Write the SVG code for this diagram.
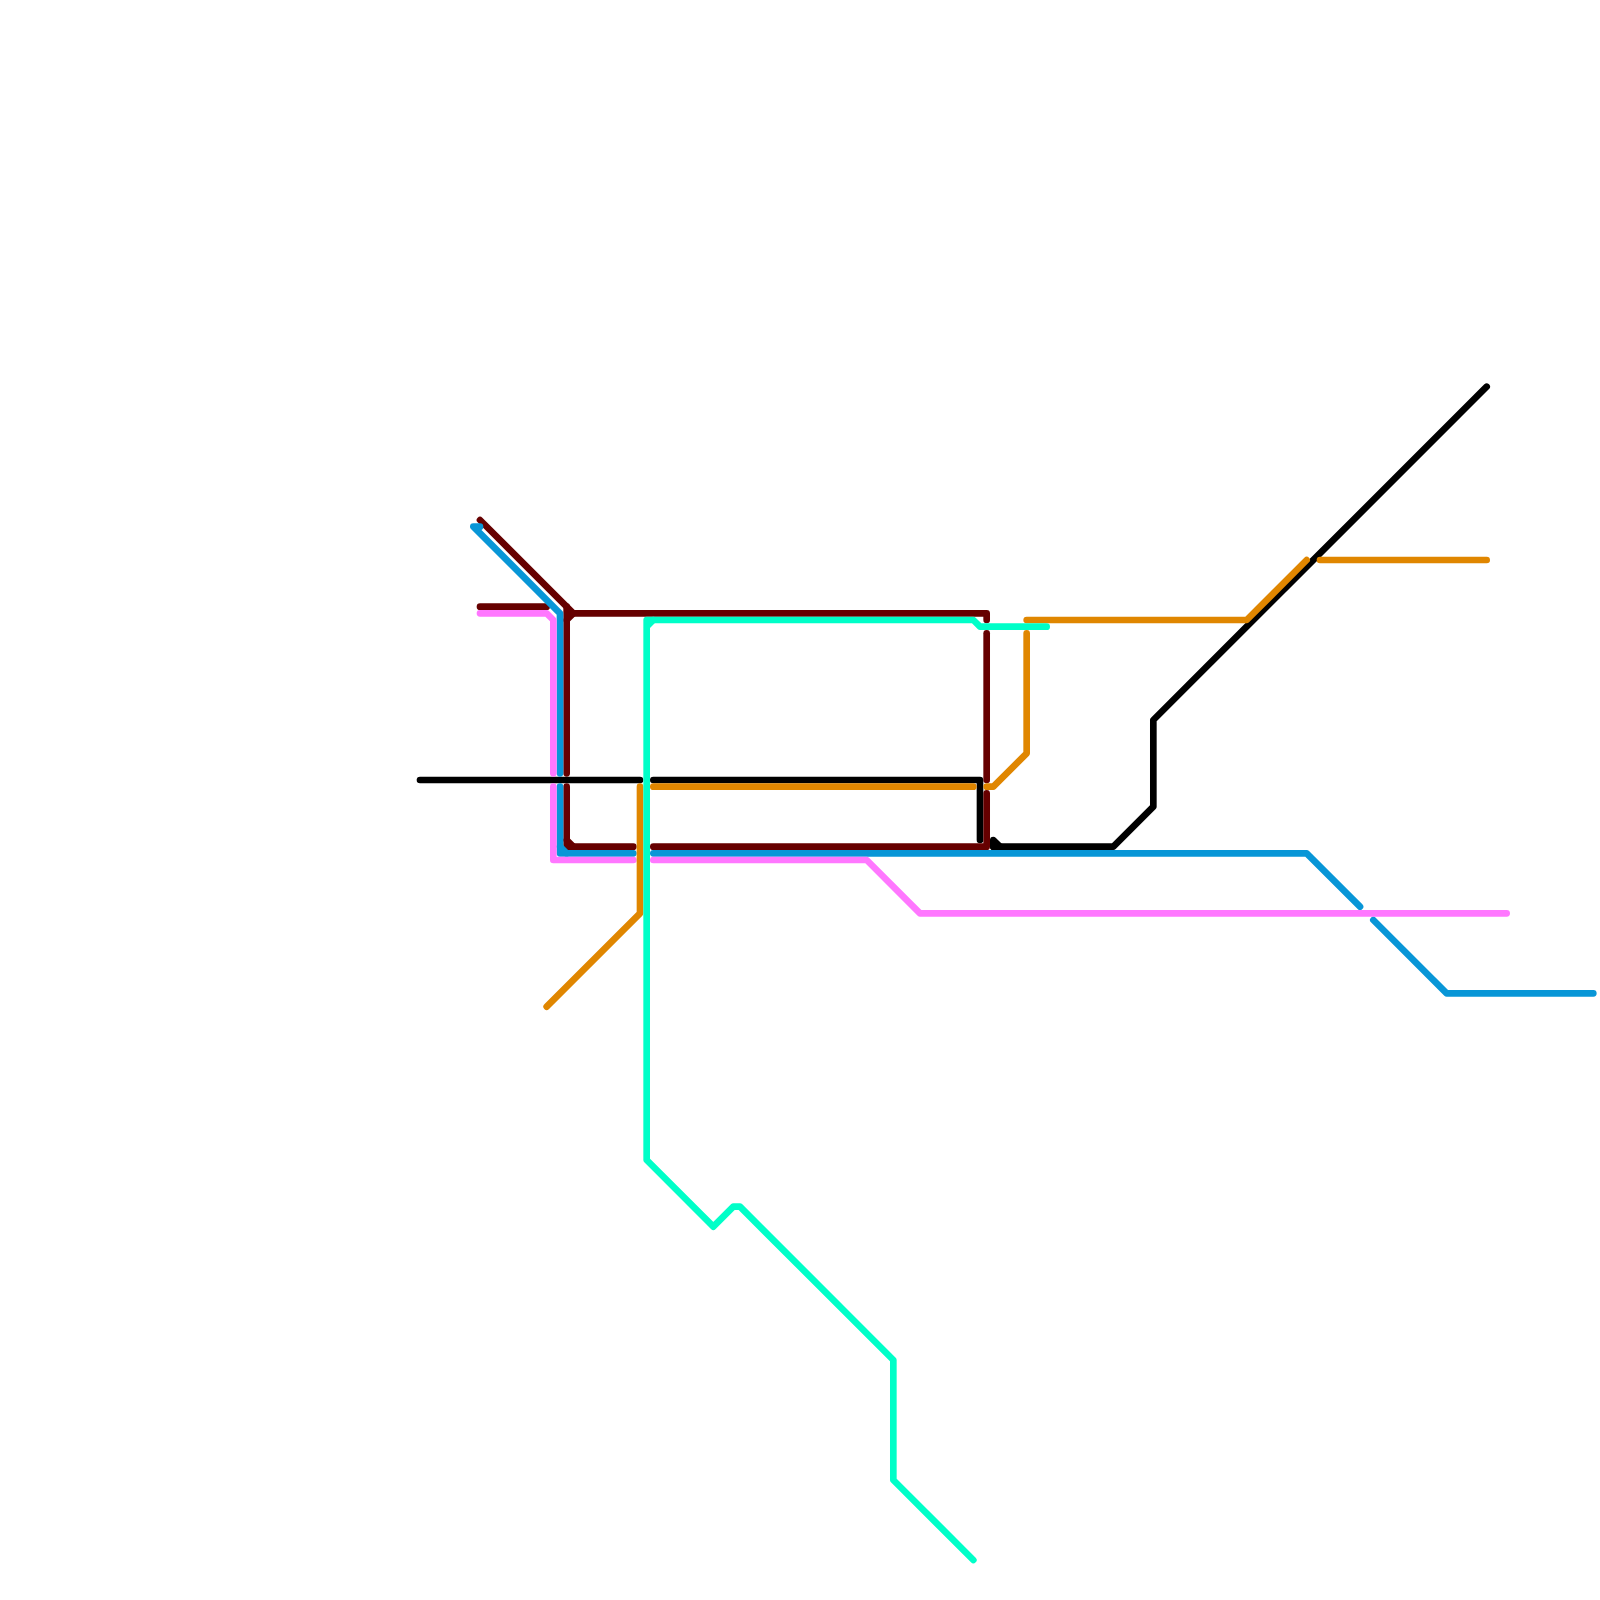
<svg xmlns="http://www.w3.org/2000/svg" width="1600" height="1600" viewBox="0 0 1600 1600">
<style>
polyline{fill:none;stroke-width:6.67;stroke-linecap:round;stroke-linejoin:round}
.black polyline{stroke:#000000}
.maroon polyline{stroke:#660000}
.blue polyline{stroke:#0896d7}
.pink polyline{stroke:#ff77ff}
.orange polyline{stroke:#e08600}
.teal polyline{stroke:#00ffc8}
</style>
<rect width="1600" height="1600" fill="#ffffff"/>
<g id="connectors">
<g id="line-black" class="black">
<polyline points="420,780 640,780"/>
<polyline points="653.33,780 980,780 980,840"/>
<polyline points="993.33,846.67 993.33,840 1000,846.67 1113.33,846.67 1153.33,806.67 1153.33,720 1486.67,386.67"/>
<polyline points="993.33,846.67 1000,846.67"/>
</g>
<g id="line-maroon" class="maroon">
<polyline points="480,520 573.33,613.33 986.67,613.33 986.67,620"/>
<polyline points="480,606.67 546.67,606.67"/>
<polyline points="566.67,773.33 566.67,620 573.33,613.33"/>
<polyline points="566.67,606.67 566.67,620"/>
<polyline points="566.67,786.67 566.67,846.67 573.33,846.67 633.33,846.67"/>
<polyline points="566.67,840 573.33,846.67"/>
<polyline points="653.33,846.67 986.67,846.67 986.67,793.33"/>
<polyline points="986.67,633.33 986.67,780"/>
</g>
<g id="line-blue" class="blue">
<polyline points="480,526.67 473.33,526.67 560,613.33 560,773.33"/>
<polyline points="560,786.67 560,853.33 633.33,853.33"/>
<polyline points="560,846.67 566.67,853.33"/>
<polyline points="653.33,853.33 1306.67,853.33 1360,906.67"/>
<polyline points="1373.33,920 1446.67,993.33 1593.33,993.33"/>
</g>
<g id="line-pink" class="pink">
<polyline points="480,613.33 546.67,613.33 553.33,620 553.33,773.33"/>
<polyline points="553.33,786.67 553.33,860 633.33,860"/>
<polyline points="653.33,860 866.67,860 920,913.33 1506.67,913.33"/>
</g>
<g id="line-orange" class="orange">
<polyline points="546.67,1006.67 640,913.33 640,786.67"/>
<polyline points="653.33,786.67 973.33,786.67"/>
<polyline points="986.67,786.67 993.33,786.67 1026.67,753.33 1026.67,633.33"/>
<polyline points="1026.67,620 1246.67,620 1306.67,560"/>
<polyline points="1320,560 1486.67,560"/>
</g>
<g id="line-teal" class="teal">
<polyline points="653.33,620 973.33,620 980,626.67 1046.67,626.67"/>
<polyline points="646.67,626.67 646.67,620 653.33,620 646.67,626.67 646.67,1160 713.33,1226.67 733.33,1206.67 740,1206.67 893.33,1360 893.33,1480 973.33,1560"/>
</g>
</g>
</svg>
